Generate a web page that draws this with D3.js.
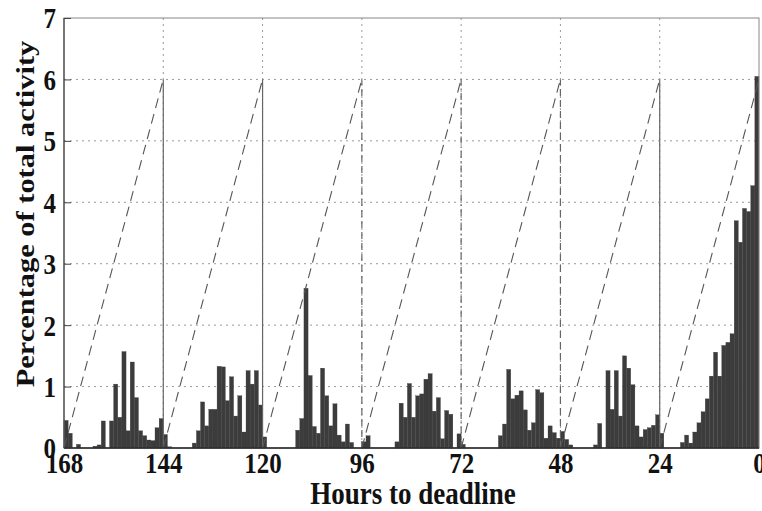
<!DOCTYPE html>
<html><head><meta charset="utf-8">
<script src="https://cdn.jsdelivr.net/npm/d3@7"></script>
<style>
html,body{margin:0;padding:0;background:#fff;}
svg{display:block;}
text{font-family:"Liberation Serif","Times New Roman",serif;font-weight:bold;fill:#111;}
</style></head>
<body>
<svg id="chart" width="762" height="511"></svg>
<script>
// Percentage of total activity per hour, listed from 168 h to 0 h before the deadline
const day7 = [0.45,0.24,0,0.06,0,0,0,0.03,0.05,0.44,0,0.44,1.04,0.5,1.57,0.28,1.4,0.82,0.28,0.2,0.13,0.12,0.33,0.48];
const day6 = [0.22,0.02,0,0,0,0,0,0.08,0.28,0.75,0.36,0.63,0.63,1.33,1.32,0.77,1.16,0.52,0.85,0.26,1.26,1.04,1.26,0.7];
const day5 = [0.18,0,0,0,0,0,0,0,0.29,0.48,2.6,1.18,0.35,0.24,1.3,0.85,0.36,0.72,0.21,0.1,0.39,0.09,0,0];
const day4 = [0.1,0.2,0,0,0,0,0,0,0.1,0.73,0.5,1.05,0.5,0.85,0.88,1.12,1.21,0.6,0.82,0.15,0.61,0.55,0,0.23];
const day3 = [0.06,0,0,0,0,0,0,0,0,0.2,0.39,1.28,0.8,0.86,0.93,0.62,0.29,0.41,0.95,0.9,0.16,0.36,0.25,0.16];
const day2 = [0.27,0.14,0.05,0,0,0,0,0,0.05,0.4,0,1.26,0.63,1.26,0.52,1.5,1.3,1.03,0.36,0.18,0.3,0.33,0.37,0.54];
const day1 = [0.24,0,0,0,0,0.09,0.21,0.08,0.26,0.41,0.59,0.8,1.17,1.56,1.17,1.67,1.72,1.86,3.7,3.35,3.9,3.85,4.27,6.05];
const activity = [].concat(day7, day6, day5, day4, day3, day2, day1);

const xTicks = [168,144,120,96,72,48,24,0];
const yTicks = [0,1,2,3,4,5,6,7];
const dayBoundaries = [144,120,96,72,48,24];
const boundaryStyles = ["solid","solid","dashed","dashdot","dashed","solid"];
const rampStarts = [168,144,120,96,72,48,24];
const rampPeak = 6;

const svg = d3.select("#chart");
const L = 64, R = 759, T = 18, B = 448;
const SY = 1.17; // vertical stretch of the lettering in the source figure
const x = d3.scaleLinear().domain([168,0]).range([L,R]);
const y = d3.scaleLinear().domain([0,7]).range([B,T]);

const bins = activity.map((v,i)=>({h0:168-i, h1:167-i, v}));

// gridlines
const grid = svg.append("g").attr("stroke","#9a9a9a").attr("stroke-width",1).attr("stroke-dasharray","2,4");
grid.selectAll("line.gy").data(yTicks.filter(d=>d>0&&d<7)).join("line")
  .attr("x1",L).attr("x2",R).attr("y1",d=>y(d)).attr("y2",d=>y(d));
grid.selectAll("line.gx").data(xTicks.filter(d=>d>0&&d<168)).join("line")
  .attr("x1",d=>x(d)).attr("x2",d=>x(d)).attr("y1",T).attr("y2",B);

// bars
svg.append("g").selectAll("rect").data(bins.filter(d=>d.v>0)).join("rect")
  .attr("x",d=>x(d.h0)).attr("width",d=>x(d.h1)-x(d.h0))
  .attr("y",d=>y(d.v)).attr("height",d=>B-y(d.v))
  .attr("fill","#3c3c3c").attr("stroke","#3c3c3c").attr("stroke-width",0.3);

// day boundary lines
const dashFor = {solid:null, dashed:"7,4", dashdot:"7,3,1.5,3"};
svg.append("g").selectAll("line").data(dayBoundaries).join("line")
  .attr("x1",d=>x(d)).attr("x2",d=>x(d)).attr("y1",y(0)).attr("y2",y(rampPeak))
  .attr("stroke","#666").attr("stroke-width",1.2)
  .attr("stroke-dasharray",(d,i)=>dashFor[boundaryStyles[i]]);

// ramps
svg.append("g").selectAll("line").data(rampStarts).join("line")
  .attr("x1",d=>x(d)).attr("y1",y(0)).attr("x2",d=>x(d-24)).attr("y2",y(rampPeak))
  .attr("stroke","#555").attr("stroke-width",1.1).attr("stroke-dasharray","10,6");

// frame
svg.append("rect").attr("x",L).attr("y",T).attr("width",R-L).attr("height",B-T)
  .attr("fill","none").attr("stroke","#888").attr("stroke-width",1);
svg.append("line").attr("x1",L).attr("x2",R).attr("y1",B).attr("y2",B).attr("stroke","#222").attr("stroke-width",1.3);
svg.append("line").attr("x1",L).attr("x2",L).attr("y1",T).attr("y2",B).attr("stroke","#444").attr("stroke-width",1.2);

// axes
const xAxis = d3.axisBottom(x).tickValues(xTicks).tickSize(0).tickFormat(d3.format("d"));
const gx = svg.append("g").attr("transform",`translate(0,${B})`).call(xAxis);
gx.select(".domain").remove();
gx.selectAll("text").attr("y",0).attr("dy",null)
  .attr("transform",`translate(0,25) scale(1,${SY})`)
  .style("font-size","25px").attr("fill","#111");

const yAxis = d3.axisLeft(y).tickValues(yTicks).tickSize(-7).tickFormat(d3.format("d"));
const gy = svg.append("g").attr("transform",`translate(${L},0)`).call(yAxis);
gy.select(".domain").remove();
gy.selectAll(".tick line").attr("stroke","#444");
gy.selectAll("text").attr("x",0).attr("dy","0.34em")
  .attr("transform",`translate(-8,0) scale(1,${SY})`)
  .style("font-size","25px").attr("fill","#111");

svg.append("text").attr("transform",`translate(413,504) scale(1,${SY})`).attr("text-anchor","middle")
  .style("font-size","27px").text("Hours to deadline");
svg.append("text").attr("transform",`translate(34,214) rotate(-90) scale(${SY},1)`).attr("text-anchor","middle")
  .style("font-size","26px").text("Percentage of total activity");
</script>
</body></html>
